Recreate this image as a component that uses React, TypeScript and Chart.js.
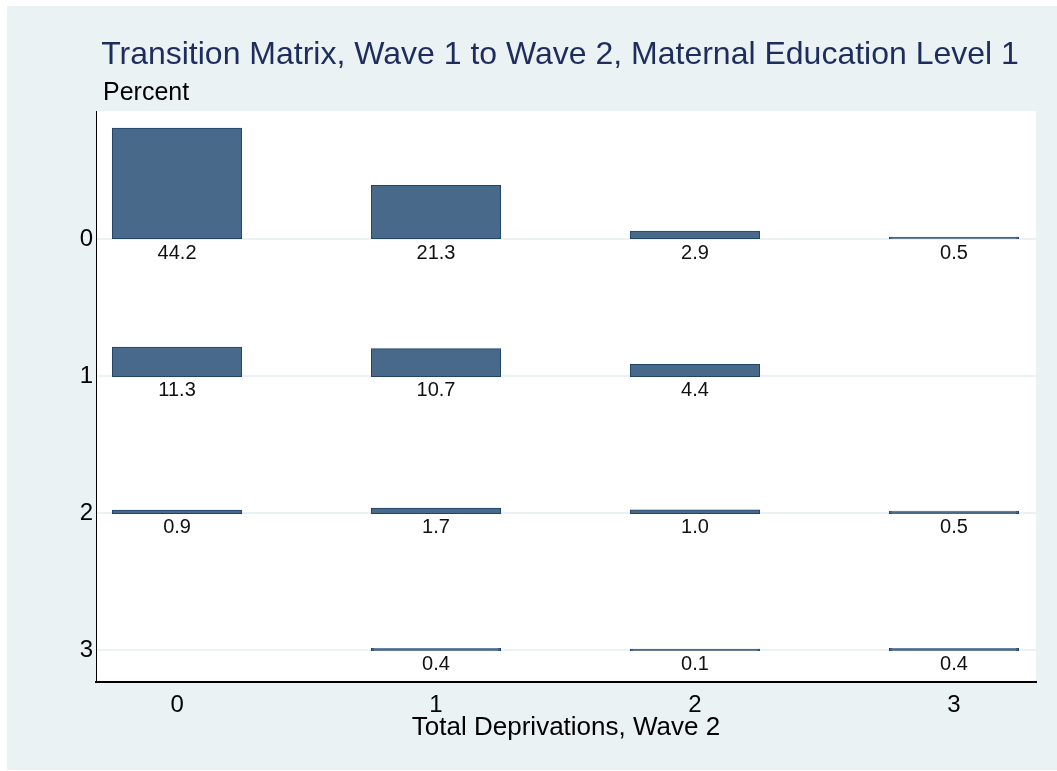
import React, { useEffect, useRef } from 'react';
import { Chart, registerables } from 'chart.js';

Chart.register(...registerables);

// ---- Data ----
const TITLE = 'Transition Matrix, Wave 1 to Wave 2, Maternal Education Level 1';
const Y_TITLE = 'Percent';
const X_TITLE = 'Total Deprivations, Wave 2';
const WAVE2_CATEGORIES = [0, 1, 2, 3]; // columns (x)
const WAVE1_CATEGORIES = [0, 1, 2, 3]; // rows (y)
const ROW_0: (number | null)[] = [44.2, 21.3, 2.9, 0.5];
const ROW_1: (number | null)[] = [11.3, 10.7, 4.4, null];
const ROW_2: (number | null)[] = [0.9, 1.7, 1.0, 0.5];
const ROW_3: (number | null)[] = [null, 0.4, 0.1, 0.4];
const ROWS = [ROW_0, ROW_1, ROW_2, ROW_3];
const PERCENT_PER_ROW = 55; // bar height scale: this many percent fill one row

// ---- Styles ----
const FONT = '"Liberation Sans", Arial, Helvetica, sans-serif';
const BG = '#EAF2F3';
const BAR_FILL = '#48698A';
const BAR_BORDER = '#1F4468';
const TITLE_COLOR = '#1E2D5B';

type Cell = { x: number; y: [number, number]; row: number; pct: number };

const cells: Cell[] = [];
WAVE1_CATEGORIES.forEach((row, r) => {
  WAVE2_CATEGORIES.forEach((col, c) => {
    const v = ROWS[r][c];
    if (v !== null && v !== undefined) {
      cells.push({ x: col, y: [row, row - v / PERCENT_PER_ROW], row, pct: v });
    }
  });
});

const backgroundPlugin = {
  id: 'stataBackground',
  beforeDraw(chart: any) {
    const { ctx, width, height, chartArea } = chart;
    ctx.save();
    ctx.fillStyle = '#ffffff';
    ctx.fillRect(0, 0, width, height);
    ctx.fillStyle = BG;
    ctx.fillRect(7, 6, width - 7, height - 7);
    ctx.fillStyle = '#ffffff';
    ctx.fillRect(chartArea.left, chartArea.top, chartArea.right - chartArea.left, chartArea.bottom - chartArea.top);
    ctx.restore();
  },
};

const textPlugin = {
  id: 'stataText',
  afterDatasetsDraw(chart: any) {
    const { ctx } = chart;
    const yScale = chart.scales.y;
    const meta = chart.getDatasetMeta(0);
    ctx.save();
    ctx.fillStyle = '#111111';
    ctx.font = `20px ${FONT}`;
    ctx.textAlign = 'center';
    ctx.textBaseline = 'top';
    meta.data.forEach((el: any, i: number) => {
      const cell = cells[i];
      const y = yScale.getPixelForValue(cell.row) + 5;
      ctx.fillText(cell.pct.toFixed(1), el.x, y);
    });
    ctx.restore();
  },
  afterDraw(chart: any) {
    const { ctx } = chart;
    ctx.save();
    ctx.fillStyle = TITLE_COLOR;
    ctx.font = `32px ${FONT}`;
    ctx.textAlign = 'center';
    ctx.textBaseline = 'alphabetic';
    ctx.fillText(TITLE, 560, 64);
    ctx.fillStyle = '#000000';
    ctx.font = `25px ${FONT}`;
    ctx.textAlign = 'left';
    ctx.fillText(Y_TITLE, 103, 100);
    ctx.restore();
  },
};

export default function App() {
  const canvasRef = useRef<HTMLCanvasElement | null>(null);

  useEffect(() => {
    if (!canvasRef.current) return;
    const chart = new Chart(canvasRef.current, {
      type: 'bar',
      data: {
        datasets: [
          {
            data: cells as any,
            backgroundColor: BAR_FILL,
            borderColor: BAR_BORDER,
            borderWidth: 1,
            borderSkipped: false,
            inflateAmount: 1,
            categoryPercentage: 1,
            barPercentage: 0.495,
          },
        ],
      },
      options: {
        animation: false,
        responsive: true,
        maintainAspectRatio: false,
        layout: { padding: { top: 111, right: 21, left: 0, bottom: 0 } },
        plugins: {
          legend: { display: false },
          tooltip: { enabled: false },
          title: { display: false },
        },
        scales: {
          x: {
            type: 'linear',
            offset: false,
            min: -0.313,
            max: 3.317,
            afterBuildTicks: (scale: any) => {
              scale.ticks = WAVE2_CATEGORIES.map((v) => ({ value: v }));
            },
            afterFit: (scale: any) => {
              scale.height = 89;
            },
            grid: { display: false, drawTicks: false, offset: false },
            border: { display: true, color: '#000000', width: 2 },
            ticks: {
              color: '#000000',
              font: { family: FONT, size: 24 },
              padding: 9,
              maxRotation: 0,
              callback: (v: any) => String(v),
            },
            title: {
              display: true,
              text: X_TITLE,
              color: '#000000',
              font: { family: FONT, size: 26 },
              padding: { top: 0, bottom: 28 },
            },
          },
          y: {
            type: 'linear',
            reverse: true,
            min: -0.934,
            max: 3.234,
            afterBuildTicks: (scale: any) => {
              scale.ticks = WAVE1_CATEGORIES.map((v) => ({ value: v }));
            },
            afterFit: (scale: any) => {
              scale.width = 96;
            },
            grid: { display: true, drawTicks: false, color: BG, lineWidth: 2 },
            border: { display: true, color: '#000000', width: 1 },
            ticks: {
              color: '#000000',
              font: { family: FONT, size: 24 },
              padding: 3,
              callback: (v: any) => String(v),
            },
          },
        },
      },
      plugins: [backgroundPlugin, textPlugin],
    });
    return () => chart.destroy();
  }, []);

  return (
    <div style={{ position: 'fixed', left: 0, top: 0, width: 1057, height: 771 }}>
      <canvas ref={canvasRef} />
    </div>
  );
}
